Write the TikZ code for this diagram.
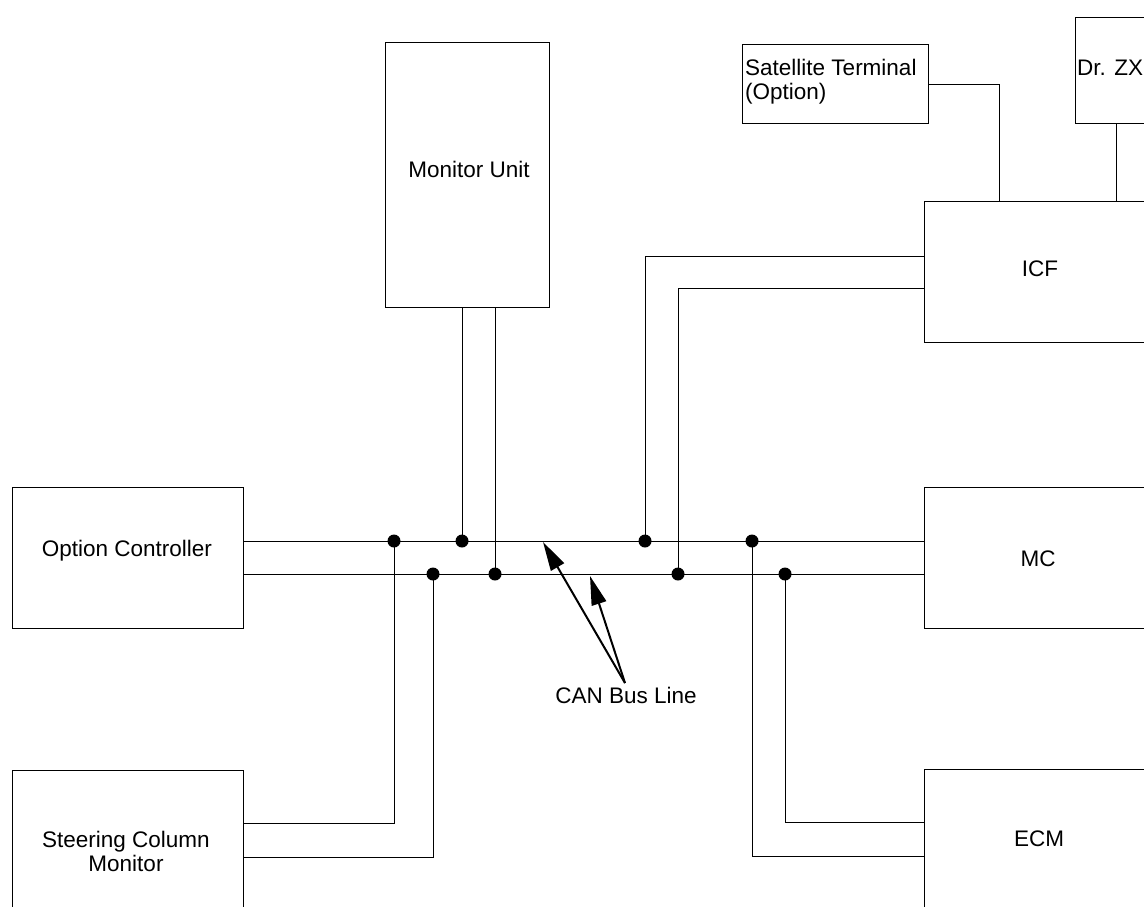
\documentclass[tikz,border=0pt]{standalone}
\usepackage{fontspec}
\setmainfont{Liberation Sans}
\usetikzlibrary{arrows.meta}
\begin{document}
\begin{tikzpicture}[x=1pt,y=-1pt,
  box/.style={draw, line width=1.1pt, rectangle, inner sep=0pt, anchor=north west},
  lbl/.style={inner sep=0pt, font=\fontsize{22.5}{24}\selectfont},
  wire/.style={line width=0.95pt},
  jdot/.style={circle, fill, inner sep=0pt, minimum size=13pt},
  callout/.style={line width=2pt, -{Triangle[length=29pt,width=15pt]}}]
\useasboundingbox (0,0) rectangle (1144,906);
\clip (0,0) rectangle (1144,906);
% boxes
\node[box, minimum width=164pt, minimum height=265pt] (mu) at (385,42) {};
\node[box, minimum width=186pt, minimum height=79pt] (sat) at (742,44) {};
\node[box, minimum width=100pt, minimum height=106pt] (drzx) at (1075,17) {};
\node[box, minimum width=231pt, minimum height=141pt] (icf) at (924,201) {};
\node[box, minimum width=231pt, minimum height=141pt] (oc) at (12,487) {};
\node[box, minimum width=231pt, minimum height=141pt] (mc) at (924,487) {};
\node[box, minimum width=231pt, minimum height=141pt] (scm) at (12,770) {};
\node[box, minimum width=231pt, minimum height=141pt] (ecm) at (924,769) {};
% labels
\node[lbl, anchor=base] (tmu) at (469,177) {Monitor Unit};
\node[lbl, anchor=base west, align=left] (tsat) at (745,99) {Satellite Terminal\\(Option)};
\node[lbl, anchor=base west] (tdr) at (1077,75) {Dr. ZX};
\node[lbl, anchor=base] (ticf) at (1040,276) {ICF};
\node[lbl, anchor=base] (toc) at (127,556) {Option Controller};
\node[lbl, anchor=base] (tmc) at (1038,566) {MC};
\node[lbl, anchor=base, align=center] (tscm) at (126,871) {Steering Column\\Monitor};
\node[lbl, anchor=base] (tecm) at (1039,846) {ECM};
\node[lbl, anchor=base] (tcan) at (626,703) {CAN Bus Line};
% junctions
\coordinate (j1) at (394,541);
\coordinate (j2) at (462,541);
\coordinate (j3) at (645,541);
\coordinate (j4) at (752,541);
\coordinate (k1) at (433,574);
\coordinate (k2) at (495,574);
\coordinate (k3) at (678,574);
\coordinate (k4) at (785,574);
% bus
\draw[wire] (oc.east |- j1) -- (mc.west |- j1);
\draw[wire] (oc.east |- k1) -- (mc.west |- k1);
% drops
\draw[wire] (j2 |- mu.south) -- (j2);
\draw[wire] (k2 |- mu.south) -- (k2);
\draw[wire] (scm.east |- 0,823) -| (j1);
\draw[wire] (scm.east |- 0,857) -| (k1);
\draw[wire] (icf.west |- 0,256) -| (j3);
\draw[wire] (icf.west |- 0,288) -| (k3);
\draw[wire] (ecm.west |- 0,822) -| (k4);
\draw[wire] (ecm.west |- 0,856) -| (j4);
\draw[wire] (sat.east |- 0,84) -| (999,0 |- icf.north);
\draw[wire] (1116,0 |- drzx.south) -- (1116,0 |- icf.north);
% dots
\foreach \p in {j1,j2,j3,j4,k1,k2,k3,k4} \node[jdot] at (\p) {};
% callout
\coordinate (cb) at (625,683);
\draw[callout] (cb) -- (543,542);
\draw[callout] (cb) -- (590,576);
\end{tikzpicture}
\end{document}
